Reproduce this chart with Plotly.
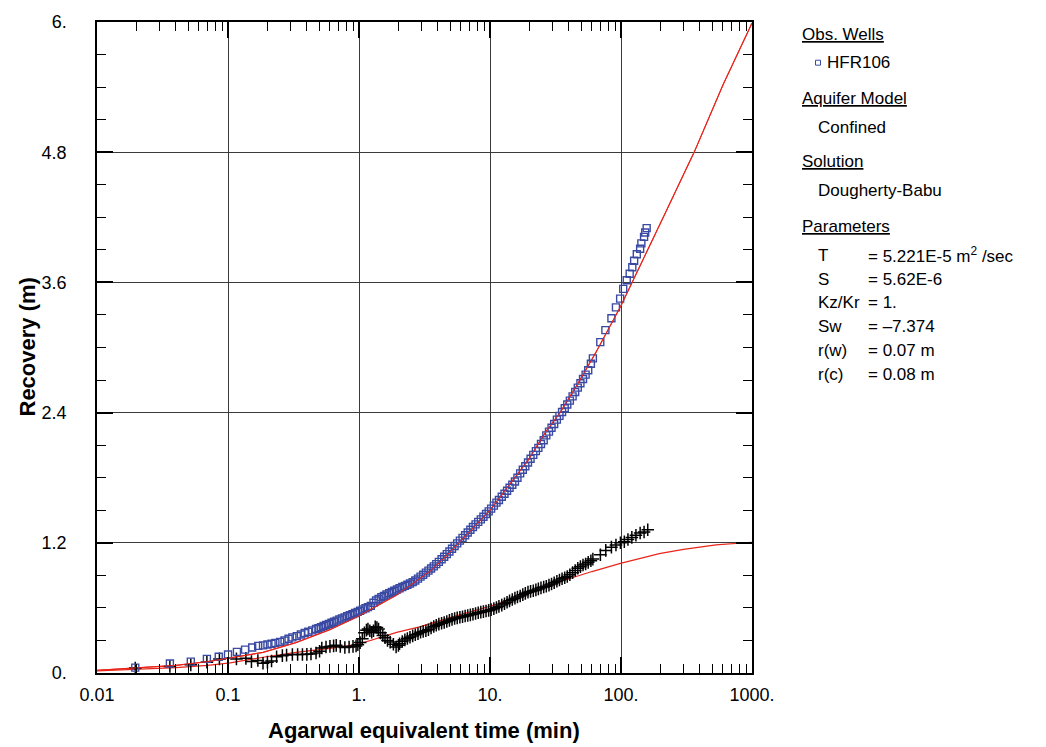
import plotly.graph_objects as go

# ---------------- data ----------------
# observed recovery, well HFR106 (blue squares)
obs_x = [0.0196, 0.036, 0.052, 0.069, 0.085, 0.1, 0.117, 0.135, 0.153, 0.17,
         0.185, 0.2, 0.215, 0.23, 0.25, 0.27, 0.29, 0.31, 0.335, 0.36, 0.385,
         0.41, 0.44, 0.47, 0.49, 0.513, 0.537, 0.562, 0.589, 0.617, 0.646, 0.676,
         0.708, 0.741, 0.776, 0.813, 0.851, 0.891, 0.933, 0.977, 1.02, 1.07,
         1.12, 1.17, 1.23, 1.29, 1.35, 1.41, 1.48, 1.55, 1.62, 1.70, 1.78, 1.86,
         1.95, 2.04, 2.14, 2.24, 2.34, 2.45, 2.57, 2.69, 2.82, 2.95, 3.09, 3.24,
         3.39, 3.55, 3.72, 3.89, 4.07, 4.27, 4.47, 4.68, 4.90, 5.13, 5.37, 5.62,
         5.89, 6.17, 6.46, 6.76, 7.08, 7.41, 7.76, 8.13, 8.51, 8.91, 9.33, 9.77,
         10.2, 10.7, 11.2, 11.7, 12.3, 12.9, 13.5, 14.1, 14.8, 15.5, 16.2, 17.0,
         17.8, 18.6, 19.5, 20.4, 21.4, 22.4, 23.4, 24.5, 25.7, 26.9, 28.2, 29.5,
         30.9, 32.4, 33.9, 35.5, 37.2, 38.9, 40.7, 42.7, 44.7, 46.8, 49.0, 51.3,
         53.7, 56.2, 58.9, 61.0,
         69.5, 76.0, 84.5, 91.5, 98.5, 104.0, 110.6, 116.5, 122.0, 126.0, 132.0,
         140.0, 143.0, 150.0, 153.0, 157.0]
obs_y = [0.05, 0.087, 0.105, 0.13, 0.15, 0.17, 0.195, 0.215, 0.235, 0.25,
         0.255, 0.262, 0.27, 0.278, 0.287, 0.3, 0.315, 0.328, 0.34, 0.355, 0.368,
         0.38, 0.393, 0.405, 0.413, 0.423, 0.433, 0.443, 0.453, 0.463, 0.473, 0.483,
         0.493, 0.503, 0.513, 0.523, 0.533, 0.543, 0.553, 0.563, 0.574, 0.586,
         0.597, 0.607, 0.619, 0.648, 0.668, 0.682, 0.698, 0.711, 0.723, 0.735,
         0.747, 0.758, 0.770, 0.781, 0.792, 0.803, 0.814, 0.825, 0.838, 0.853,
         0.870, 0.888, 0.906, 0.925, 0.944, 0.963, 0.983, 1.003, 1.024, 1.048,
         1.072, 1.096, 1.12, 1.145, 1.17, 1.195, 1.22, 1.245, 1.27, 1.295, 1.32,
         1.345, 1.37, 1.393, 1.416, 1.44, 1.465, 1.49, 1.515, 1.543, 1.57, 1.595,
         1.625, 1.652, 1.68, 1.707, 1.735, 1.765, 1.80, 1.84, 1.873, 1.905, 1.94,
         1.975, 2.01, 2.045, 2.075, 2.11, 2.145, 2.19, 2.225, 2.26, 2.295, 2.335,
         2.37, 2.405, 2.44, 2.475, 2.51, 2.55, 2.59, 2.63, 2.67, 2.71, 2.75, 2.79,
         2.85, 2.9,
         3.05, 3.16, 3.27, 3.37, 3.45, 3.54, 3.62, 3.68, 3.74, 3.8, 3.86,
         3.91, 3.96, 4.02, 4.06, 4.1]

# second data set (black crosses)
der_x = [0.0196, 0.036, 0.052, 0.069, 0.086, 0.116, 0.137, 0.151, 0.169, 0.185,
         0.2, 0.215, 0.235, 0.26, 0.28, 0.31, 0.34, 0.37, 0.4, 0.43, 0.47, 0.5,
         0.52, 0.56, 0.6, 0.64, 0.67, 0.72, 0.78, 0.84, 0.9, 0.95, 0.98, 1.02,
         1.06, 1.1, 1.14, 1.17, 1.21, 1.25, 1.29, 1.33, 1.37, 1.41, 1.46, 1.52,
         1.58, 1.65, 1.73, 1.83, 1.92, 2.0, 2.04, 2.14, 2.24, 2.34, 2.45, 2.57,
         2.69, 2.82, 2.95, 3.09, 3.24, 3.39, 3.55, 3.72, 3.89, 4.07, 4.27, 4.47,
         4.68, 4.90, 5.13, 5.37, 5.62, 5.89, 6.17, 6.46, 6.76, 7.08, 7.41, 7.76,
         8.13, 8.51, 8.91, 9.33, 9.77, 10.2, 10.7, 11.2, 11.7, 12.3, 12.9, 13.5,
         14.1, 14.8, 15.5, 16.2, 17.0, 17.8, 18.6, 19.5, 20.4, 21.4, 22.4, 23.4,
         24.5, 25.7, 26.9, 28.2, 29.5, 30.9, 32.4, 33.9, 35.5, 37.2, 38.9, 40.7,
         42.7, 44.7, 46.8, 49.0, 51.3, 53.7, 56.2, 58.9, 61.0,
         69.6, 76.5, 84.5, 91.5, 99.0, 106.0, 113.0, 121.0, 130.0, 140.0, 150.0,
         160.0]
der_y = [0.045, 0.06, 0.075, 0.1, 0.13, 0.13, 0.135, 0.105, 0.115, 0.09,
         0.1, 0.11, 0.15, 0.16, 0.165, 0.17, 0.17, 0.17, 0.172, 0.175, 0.185, 0.2,
         0.23, 0.24, 0.245, 0.25, 0.255, 0.245, 0.235, 0.24, 0.245, 0.25, 0.26,
         0.28, 0.315, 0.37, 0.395, 0.405, 0.39, 0.375, 0.39, 0.425, 0.42, 0.405,
         0.37, 0.345, 0.325, 0.3, 0.285, 0.265, 0.24, 0.255, 0.27, 0.29, 0.305,
         0.318, 0.33, 0.342, 0.352, 0.362, 0.375, 0.382, 0.39, 0.398, 0.415,
         0.428, 0.44, 0.45, 0.458, 0.466, 0.474, 0.485, 0.494, 0.502, 0.508,
         0.514, 0.519, 0.525, 0.53, 0.536, 0.542, 0.549, 0.555, 0.561, 0.566,
         0.571, 0.577, 0.584, 0.593, 0.603, 0.614, 0.626, 0.638, 0.652, 0.665,
         0.678, 0.69, 0.70, 0.71, 0.722, 0.734, 0.745, 0.752, 0.758, 0.766, 0.775,
         0.785, 0.793, 0.80, 0.81, 0.82, 0.832, 0.845, 0.857, 0.868, 0.878, 0.89,
         0.905, 0.925, 0.945, 0.965, 0.98, 0.995, 1.005, 1.02, 1.035, 1.05,
         1.09, 1.13, 1.16, 1.18, 1.2, 1.21, 1.23, 1.25, 1.27, 1.29, 1.3, 1.32]

# Dougherty-Babu model curves (red)
fit_x = [0.01, 0.02, 0.04, 0.07, 0.104, 0.185, 0.33, 0.6, 1.0, 1.94, 3.5, 4.65,
         10.0, 19.5, 26.9, 34.3, 48.6, 64.0, 99.5, 124.0, 157.0, 222.0, 365.0,
         600.0, 1000.0]
fit_y = [0.025, 0.045, 0.07, 0.105, 0.14, 0.19, 0.28, 0.4, 0.526, 0.72, 0.94,
         1.08, 1.5, 1.96, 2.23, 2.4, 2.7, 2.95, 3.38, 3.62, 3.87, 4.26, 4.81,
         5.42, 5.99]

fit2_x = [0.01, 0.02, 0.04, 0.07, 0.104, 0.185, 0.33, 0.6, 1.0, 1.94, 2.9, 5.26,
          10.0, 21.3, 35.9, 60.0, 99.0, 196.0, 300.0, 531.0, 1000.0]
fit2_y = [0.02, 0.035, 0.05, 0.07, 0.093, 0.145, 0.19, 0.227, 0.267, 0.375,
          0.425, 0.52, 0.615, 0.745, 0.85, 0.935, 1.01, 1.1, 1.14, 1.18, 1.205]

x_ticks = [0.01, 0.1, 1, 10, 100, 1000]
x_ticktext = ["0.01", "0.1", "1.", "10.", "100.", "1000."]
x_minor = [m * 10 ** e for e in (-2, -1, 0, 1, 2) for m in range(2, 10)]
y_ticks = [0, 1.2, 2.4, 3.6, 4.8, 6.0]
y_ticktext = ["0.", "1.2", "2.4", "3.6", "4.8", "6."]

params = [("T", "= 5.221E-5 m<sup>2</sup> /sec"), ("S", "= 5.62E-6"),
          ("Kz/Kr", "= 1."), ("Sw", "= \u20137.374"), ("r(w)", "= 0.07 m"),
          ("r(c)", "= 0.08 m")]

FONT = "Liberation Sans, Arial, sans-serif"
BLUE = "#3a4aa3"
RED = "#e8261c"

fig = go.Figure()
fig.add_trace(go.Scatter(x=fit_x, y=fit_y, mode="lines",
                         line=dict(color=RED, width=1.2), showlegend=False))
fig.add_trace(go.Scatter(x=fit2_x, y=fit2_y, mode="lines",
                         line=dict(color=RED, width=1.2), showlegend=False))
fig.add_trace(go.Scatter(x=der_x, y=der_y, mode="markers",
                         marker=dict(symbol="cross-thin", size=9,
                                     line=dict(color="black", width=1.5)),
                         showlegend=False))
fig.add_trace(go.Scatter(x=obs_x, y=obs_y, mode="markers", name="HFR106",
                         marker=dict(symbol="square-open", size=7,
                                     color=BLUE, line=dict(color=BLUE, width=1.4)),
                         showlegend=False))
# red fit on top of the data band, as in the reference
fig.add_trace(go.Scatter(x=fit_x, y=fit_y, mode="lines",
                         line=dict(color=RED, width=1), showlegend=False))

axis_common = dict(ticks="inside", ticklen=16, tickwidth=1.5, tickcolor="black",
                   showline=True, linecolor="black", linewidth=1.5, mirror="ticks",
                   showgrid=True, gridcolor="#3a3a3a", gridwidth=1, zeroline=False,
                   tickfont=dict(family=FONT, size=18, color="black"))

fig.update_xaxes(type="log", range=[-2, 3], tickmode="array", tickvals=x_ticks,
                 ticktext=x_ticktext, ticklabelstandoff=5,
                 minor=dict(tickmode="array", tickvals=x_minor, ticks="inside",
                            ticklen=9, tickwidth=1, tickcolor="black", showgrid=False),
                 **axis_common)
fig.update_yaxes(range=[0, 6], tickmode="array", tickvals=y_ticks,
                 ticktext=y_ticktext, ticklabelstandoff=25,
                 minor=dict(tick0=0, dtick=0.3, ticks="inside", ticklen=9,
                            tickwidth=1, tickcolor="black", showgrid=False),
                 **axis_common)

W, H = 1046, 747
L, R, T, B = 97, 294, 17, 74
pw, ph = W - L - R, H - T - B


def px(xp):
    return (xp - L) / pw


def py(yp):
    return (H - B - yp) / ph


ann = []
ann.append(dict(text="<b>Agarwal equivalent time (min)</b>", x=px(424), y=py(731),
                font=dict(size=22)))
ann.append(dict(text="<b>Recovery (m)</b>", x=px(27), y=py(345), textangle=-90,
                font=dict(size=22)))
left_items = [("<u>Obs. Wells</u>", 800, 30), ("HFR106", 825, 58),
              ("<u>Aquifer Model</u>", 800, 94), ("Confined", 816, 123),
              ("<u>Solution</u>", 800, 158), ("Dougherty-Babu", 816, 187),
              ("<u>Parameters</u>", 800, 223)]
for txt, xx, yy in left_items:
    ann.append(dict(text=txt, x=px(xx), y=py(yy), xanchor="left",
                    font=dict(size=17)))
for i, (lab, val) in enumerate(params):
    yy = 252 + i * 24
    ann.append(dict(text=lab, x=px(816), y=py(yy), xanchor="left", font=dict(size=17)))
    ann.append(dict(text=val, x=px(866), y=py(yy), xanchor="left", font=dict(size=17)))

for a in ann:
    a.update(xref="paper", yref="paper", showarrow=False)
    a.setdefault("xanchor", "center")
    a["yanchor"] = "middle"
    a["font"] = dict(family=FONT, color="black", size=a["font"]["size"])

fig.update_layout(
    width=W, height=H, margin=dict(l=L, r=R, t=T, b=B),
    paper_bgcolor="white", plot_bgcolor="white", showlegend=False,
    annotations=ann,
    shapes=[dict(type="rect", xref="paper", yref="paper",
                 x0=px(815.5), x1=px(820.5), y0=py(60.5), y1=py(55.5),
                 line=dict(color=BLUE, width=1))],
)

fig.write_html("out.html")
